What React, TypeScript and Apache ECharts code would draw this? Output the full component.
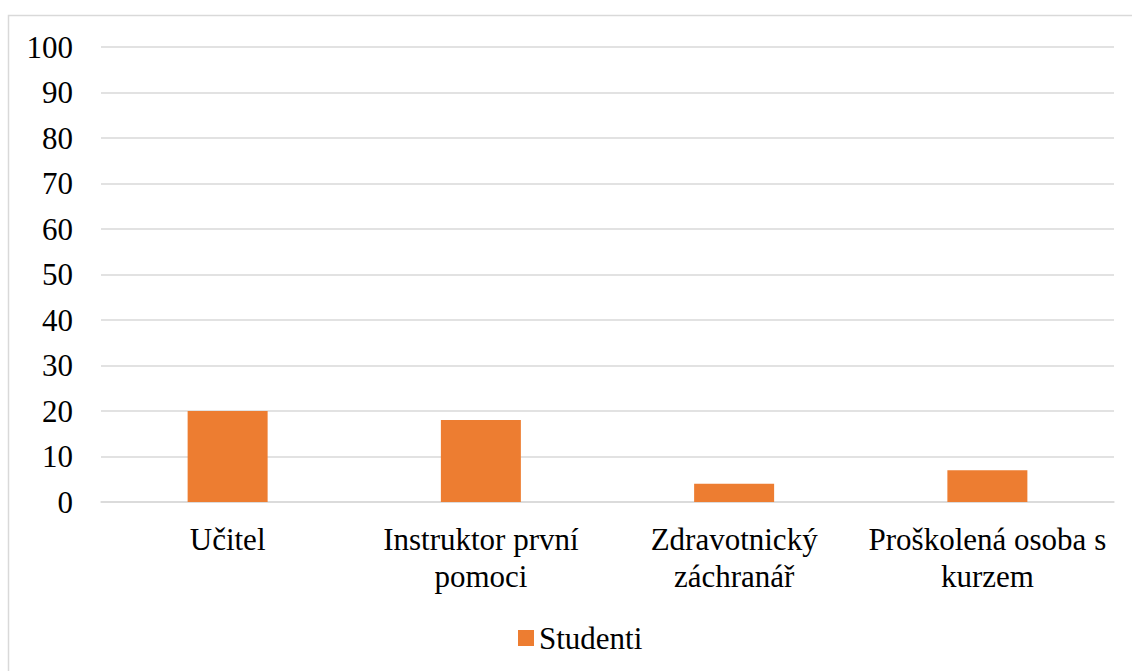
import React, { useEffect, useRef } from "react";
import * as echarts from "echarts";

const categories = [
  "Učitel",
  "Instruktor první\npomoci",
  "Zdravotnický\nzáchranář",
  "Proškolená osoba s\nkurzem",
];
const studenti = [20, 18, 4, 7];
const seriesName = "Studenti";
const yMin = 0;
const yMax = 100;
const yStep = 10;

const FONT = "Times New Roman";

export default function App() {
  const ref = useRef<HTMLDivElement>(null);
  useEffect(() => {
    if (!ref.current) return;
    const chart = echarts.init(ref.current, null, { renderer: "svg" });
    chart.setOption({
      animation: false,
      backgroundColor: "#ffffff",
      textStyle: { fontFamily: FONT },
      graphic: [
        {
          type: "rect",
          shape: { x: 8.5, y: 15.5, width: 2000, height: 2000 },
          style: { fill: "none", stroke: "#d9d9d9", lineWidth: 1.5 },
          silent: true,
        },
      ],
      grid: { left: 101, right: 18, top: 47, bottom: 169, containLabel: false },
      legend: {
        data: [seriesName],
        left: 513,
        top: 615,
        icon: "rect",
        itemWidth: 16,
        itemHeight: 16,
        textStyle: { fontFamily: FONT, fontSize: 31, color: "#000", lineHeight: 36 },
      },
      xAxis: {
        type: "category",
        data: categories,
        axisTick: { show: false },
        axisLine: { lineStyle: { color: "#d9d9d9", width: 1.5 } },
        axisLabel: {
          interval: 0,
          margin: 19,
          fontFamily: FONT,
          fontSize: 31,
          lineHeight: 37,
          color: "#000",
        },
      },
      yAxis: {
        type: "value",
        min: yMin,
        max: yMax,
        interval: yStep,
        axisLine: { show: false },
        axisTick: { show: false },
        splitLine: { lineStyle: { color: "#d9d9d9", width: 1.5 } },
        axisLabel: { margin: 28, fontFamily: FONT, fontSize: 31, color: "#000" },
      },
      series: [
        {
          name: seriesName,
          type: "bar",
          data: studenti,
          barWidth: 80,
          itemStyle: { color: "#ED7D31" },
        },
      ],
    });
    return () => chart.dispose();
  }, []);
  return (
    <div
      ref={ref}
      style={{ position: "fixed", left: 0, top: 0, width: 1132, height: 671 }}
    />
  );
}
